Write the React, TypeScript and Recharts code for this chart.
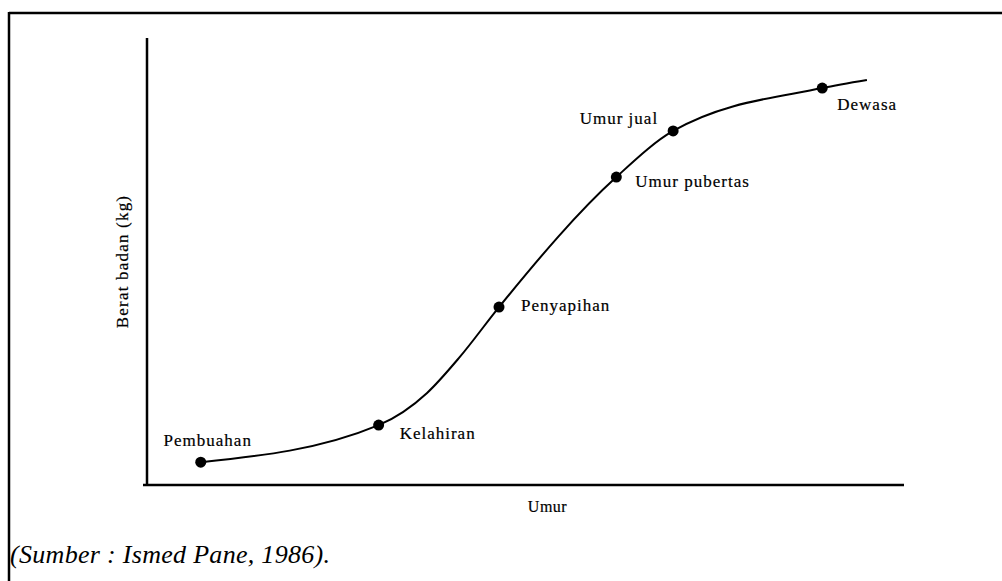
import { ComposedChart, Line, Scatter, XAxis, YAxis } from 'recharts'

// curve (arbitrary units 0-100 on both axes)
const curveUmur = [7.1, 30.6, 37.0, 41.3, 46.5, 62.0, 69.5, 89.2, 95.1]
const curveBerat = [5.1, 13.4, 20.6, 28.6, 39.8, 68.9, 79.2, 88.8, 90.6]

// marked stages on the growth curve
const stageNames = ['Pembuahan', 'Kelahiran', 'Penyapihan', 'Umur pubertas', 'Umur jual', 'Dewasa']
const stageUmur = [7.1, 30.6, 46.5, 62.0, 69.5, 89.2]
const stageBerat = [5.1, 13.4, 39.8, 68.9, 79.2, 88.8]

const curve = curveUmur.map((x, i) => ({ x, y: curveBerat[i] }))
const stages = stageNames.map((name, i) => ({ name, x: stageUmur[i], y: stageBerat[i] }))

const font = '"Liberation Serif", "Times New Roman", serif'

// label placement relative to each dot
const labelPos: Record<string, { dx: number; dy: number; anchor: 'start' | 'middle' | 'end' }> = {
  Pembuahan: { dx: 7, dy: -16, anchor: 'middle' },
  Kelahiran: { dx: 21, dy: 14, anchor: 'start' },
  Penyapihan: { dx: 22, dy: 4, anchor: 'start' },
  'Umur pubertas': { dx: 19, dy: 10, anchor: 'start' },
  'Umur jual': { dx: -15, dy: -7, anchor: 'end' },
  Dewasa: { dx: 15, dy: 22, anchor: 'start' },
}

const StageDot = (props: any) => {
  const { cx, cy, payload } = props
  const p = labelPos[payload.name]
  return (
    <g>
      <circle cx={cx} cy={cy} r={5.5} fill="#000" />
      <text
        x={cx + p.dx}
        y={cy + p.dy}
        textAnchor={p.anchor}
        fontFamily={font}
        fontSize={17}
        letterSpacing={1}
        fill="#000"
        stroke="#000"
        strokeWidth={0.2}
      >
        {payload.name}
      </text>
    </g>
  )
}

const YTitle = (props: any) => {
  const { x, y, width, height } = props.viewBox
  return (
    <text
      transform={`translate(${x + width - 19},${y + height / 2}) rotate(-90)`}
      textAnchor="middle"
      fontFamily={font}
      fontSize={17}
      letterSpacing={1.2}
      fill="#000"
      stroke="#000"
      strokeWidth={0.2}
    >
      Berat badan (kg)
    </text>
  )
}

const XTitle = (props: any) => {
  const { x, y, width } = props.viewBox
  return (
    <text
      x={x + width / 2 + 22}
      y={y + 27}
      textAnchor="middle"
      fontFamily={font}
      fontSize={16}
      letterSpacing={0.5}
      fill="#000"
      stroke="#000"
      strokeWidth={0.2}
    >
      Umur
    </text>
  )
}

export default function App() {
  return (
    <div style={{ position: 'relative', width: 1002, height: 581, background: '#fff' }}>
      <style>{'body{margin:0;background:#fff}'}</style>
      <ComposedChart
        width={1002}
        height={581}
        margin={{ top: 38, right: 98, bottom: 86, left: 137 }}
      >
        <XAxis
          type="number"
          dataKey="x"
          domain={[0, 100]}
          height={10}
          tick={false}
          tickLine={false}
          axisLine={{ stroke: '#000', strokeWidth: 2.5 }}
          label={<XTitle />}
        />
        <YAxis
          type="number"
          dataKey="y"
          domain={[0, 100]}
          width={10}
          tick={false}
          tickLine={false}
          axisLine={{ stroke: '#000', strokeWidth: 2.5 }}
          label={<YTitle />}
        />
        <Line
          data={curve}
          dataKey="y"
          type="monotone"
          stroke="#000"
          strokeWidth={2}
          dot={false}
          activeDot={false}
          isAnimationActive={false}
        />
        <Scatter data={stages} dataKey="y" shape={<StageDot />} isAnimationActive={false} />
      </ComposedChart>
      <svg
        width={1002}
        height={581}
        style={{ position: 'absolute', left: 0, top: 0, pointerEvents: 'none' }}
      >
        <line x1={9} y1={13} x2={1002} y2={13} stroke="#000" strokeWidth={2.5} />
        <line x1={9} y1={12} x2={9} y2={581} stroke="#000" strokeWidth={2.5} />
        <line x1={143} y1={485} x2={147} y2={485} stroke="#000" strokeWidth={2.5} />
        <text
          x={10}
          y={563}
          fontFamily={font}
          fontStyle="italic"
          fontSize={26}
          letterSpacing={0.3}
          fill="#000"
        >
          (Sumber : Ismed Pane, 1986).
        </text>
      </svg>
    </div>
  )
}
